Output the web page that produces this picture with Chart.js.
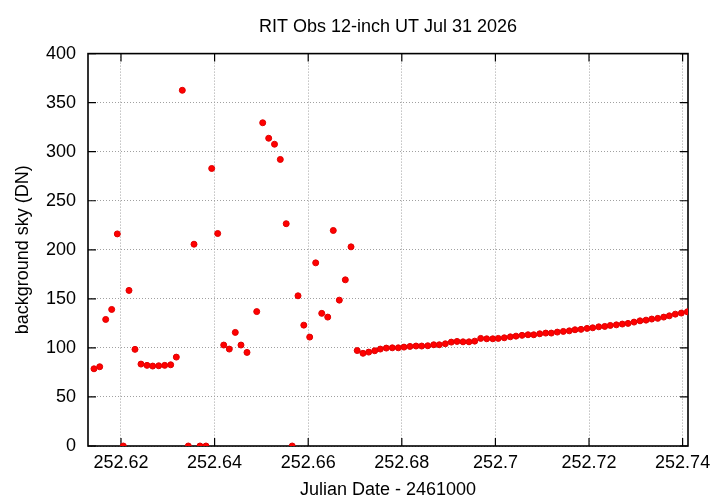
<!DOCTYPE html>
<html>
<head>
<meta charset="utf-8">
<script src="https://cdn.jsdelivr.net/npm/chart.js@4/dist/chart.umd.min.js"></script>
<style>
html,body{margin:0;padding:0;background:#fff;}
canvas{display:block;}
</style>
</head>
<body>
<canvas id="c" width="720" height="504"></canvas>
<script>
const chartTitle = 'RIT Obs 12-inch UT Jul 31 2026';
const xTitle = 'Julian Date - 2461000';
const yTitle = 'background sky (DN)';

const julianDate = [
  252.61423, 252.61545, 252.61673, 252.61801, 252.61921, 252.62049, 252.62171, 252.62299,
  252.62427, 252.62556, 252.62677, 252.62806, 252.62934, 252.63062, 252.63182, 252.63310,
  252.63438, 252.63560, 252.63688, 252.63816, 252.63938, 252.64066, 252.64195, 252.64314,
  252.64442, 252.64564, 252.64692, 252.64900, 252.65028, 252.65156, 252.65280, 252.65404,
  252.65530, 252.65658, 252.65782, 252.65906, 252.66032, 252.66160, 252.66289, 252.66417,
  252.66536, 252.66665, 252.66793, 252.66915, 252.67047, 252.67171, 252.67293, 252.67421,
  252.67541, 252.67669, 252.67797, 252.67925, 252.68047, 252.68175, 252.68304, 252.68425,
  252.68554, 252.68682, 252.68801, 252.68930, 252.69058, 252.69180, 252.69308, 252.69436,
  252.69558, 252.69686, 252.69814, 252.69943, 252.70062, 252.70190, 252.70319, 252.70440,
  252.70569, 252.70697, 252.70819, 252.70947, 252.71075, 252.71195, 252.71323, 252.71451,
  252.71579, 252.71701, 252.71829, 252.71958, 252.72079, 252.72208, 252.72336, 252.72455,
  252.72584, 252.72712, 252.72834, 252.72962, 252.73090, 252.73218, 252.73340, 252.73468,
  252.73596, 252.73716, 252.73844, 252.73973, 252.74101
];
const skyDN = [
  78.7, 80.8, 129.0, 139.2, 216.2, 0, 158.6, 98.5,
  83.5, 82.2, 81.5, 81.8, 82.2, 82.8, 90.6, 362.6,
  0, 205.7, 0, 0, 282.9, 216.6, 102.9, 98.8,
  115.8, 102.9, 95.4, 137.0, 329.5, 313.7, 307.6, 292.1,
  226.6, 0, 153.1, 123.2, 111.0, 186.7, 135.2, 131.4,
  219.7, 148.7, 169.4, 203.0, 97.3, 94.5, 95.7, 97.1,
  98.8, 99.8, 100.1, 100.1, 100.8, 101.5, 101.9, 101.9,
  102.2, 103.2, 103.2, 104.2, 105.9, 106.6, 106.2, 106.2,
  106.9, 109.7, 109.3, 109.3, 109.7, 110.3, 111.3, 112.0,
  112.8, 113.4, 113.4, 114.4, 115.1, 115.1, 116.1, 116.8,
  117.4, 118.5, 118.9, 119.9, 120.5, 121.5, 121.9, 122.9,
  123.5, 124.3, 125.0, 126.3, 127.6, 128.3, 129.4, 130.1,
  131.4, 132.7, 134.4, 135.5, 136.8
];

const xTicks = [252.62, 252.64, 252.66, 252.68, 252.70, 252.72, 252.74];
const xTickLabels = ['252.62', '252.64', '252.66', '252.68', '252.7', '252.72', '252.74'];
const yTicks = [0, 50, 100, 150, 200, 250, 300, 350, 400];
const yTickLabels = ['0', '50', '100', '150', '200', '250', '300', '350', '400'];
const xRange = [252.61295, 252.74115];
const yRange = [0, 400];

const FONT = 'Liberation Sans, Arial, Helvetica, sans-serif';

const framePlugin = {
  id: 'frame',
  beforeDatasetsDraw(chart) {
    const {ctx, chartArea: a, scales} = chart;
    ctx.save();
    ctx.strokeStyle = '#000';
    ctx.lineWidth = 1.6;
    ctx.setLineDash([]);
    ctx.strokeRect(a.left, a.top, a.right - a.left, a.bottom - a.top);
    const L = 8;
    ctx.lineWidth = 1.2;
    ctx.beginPath();
    xTicks.forEach(v => {
      const px = scales.x.getPixelForValue(v);
      ctx.moveTo(px, a.bottom); ctx.lineTo(px, a.bottom - L);
      ctx.moveTo(px, a.top); ctx.lineTo(px, a.top + L);
    });
    yTicks.forEach(v => {
      const py = scales.y.getPixelForValue(v);
      ctx.moveTo(a.left, py); ctx.lineTo(a.left + L, py);
      ctx.moveTo(a.right, py); ctx.lineTo(a.right - L, py);
    });
    ctx.stroke();
    ctx.restore();
  }
};

new Chart(document.getElementById('c'), {
  type: 'scatter',
  data: {
    datasets: [{
      data: julianDate.map((x, i) => ({x: x, y: skyDN[i]})),
      backgroundColor: '#ff0000',
      borderColor: '#e00000',
      borderWidth: 1,
      pointRadius: 3,
      pointHoverRadius: 3
    }]
  },
  options: {
    responsive: false,
    animation: false,
    events: [],
    layout: {padding: {left: 0, right: 32, top: 0, bottom: 0}},
    plugins: {
      legend: {display: false},
      tooltip: {enabled: false},
      title: {
        display: true,
        fullSize: false,
        text: chartTitle,
        color: '#000',
        font: {family: FONT, size: 18, weight: 'normal'},
        padding: {top: 16, bottom: 16}
      }
    },
    scales: {
      x: {
        type: 'linear',
        min: xRange[0],
        max: xRange[1],
        afterBuildTicks: s => { s.ticks = xTicks.map(v => ({value: v})); },
        afterFit: s => { s.height = 58; },
        ticks: {
          autoSkip: false,
          maxRotation: 0,
          color: '#000',
          padding: 6,
          font: {family: FONT, size: 18},
          callback: (v, i) => xTickLabels[i]
        },
        grid: {drawTicks: false, color: '#a0a0a0', lineWidth: 1},
        border: {display: false, dash: [1, 2]},
        title: {
          display: true,
          text: xTitle,
          color: '#000',
          font: {family: FONT, size: 18},
          padding: {top: 0, bottom: 3}
        }
      },
      y: {
        type: 'linear',
        min: yRange[0],
        max: yRange[1],
        afterBuildTicks: s => { s.ticks = yTicks.map(v => ({value: v})); },
        afterFit: s => { s.width = 88; },
        ticks: {
          autoSkip: false,
          color: '#000',
          padding: 12,
          font: {family: FONT, size: 18},
          callback: (v, i) => yTickLabels[i]
        },
        grid: {drawTicks: false, color: '#a0a0a0', lineWidth: 1},
        border: {display: false, dash: [1, 2]},
        title: {
          display: true,
          text: yTitle,
          color: '#000',
          font: {family: FONT, size: 18},
          padding: {top: 12, bottom: 0}
        }
      }
    }
  },
  plugins: [framePlugin]
});
</script>
</body>
</html>
